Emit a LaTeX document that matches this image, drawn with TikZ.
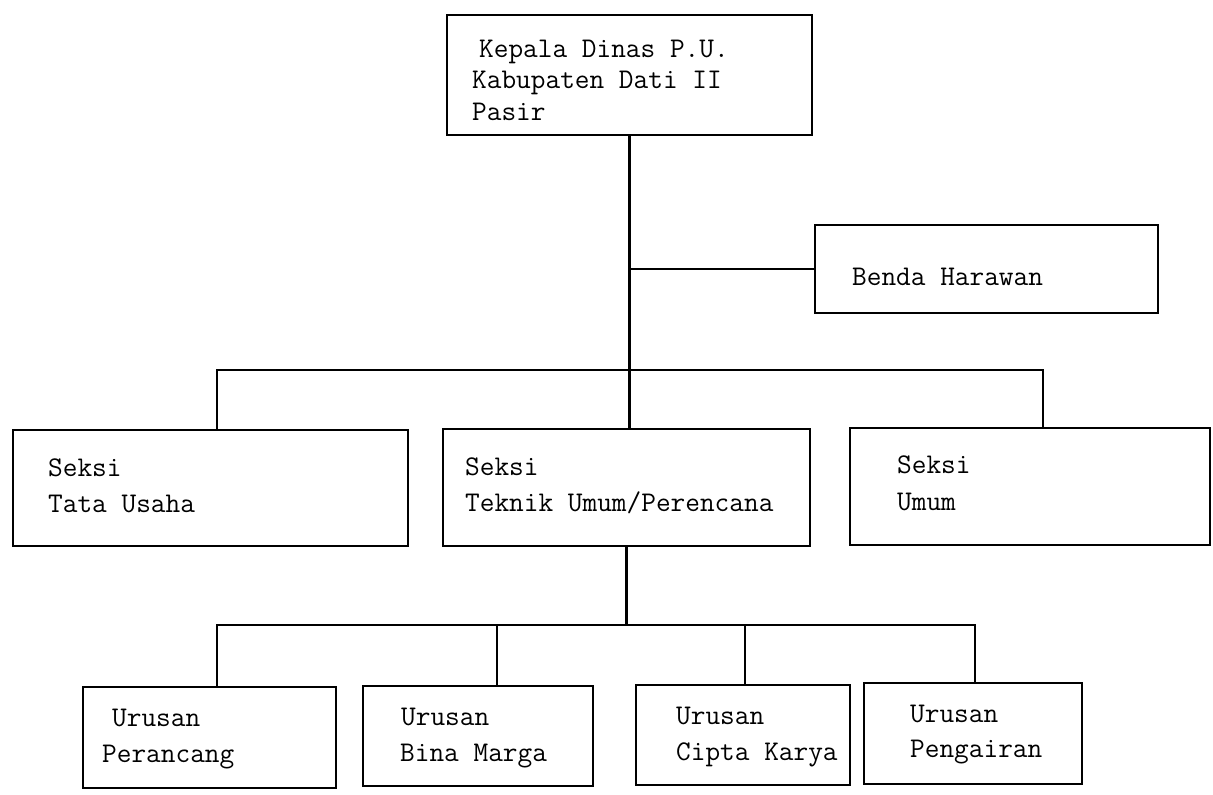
\documentclass[tikz,border=0pt]{standalone}
\begin{document}
\begin{tikzpicture}[x=1pt,y=-1pt,
  box/.style={draw, rectangle, line width=2.2pt, inner sep=0pt},
  wire/.style={line width=2.2pt},
  lbl/.style={anchor=base west, inner sep=0pt, font=\ttfamily\fontsize{28.5}{34}\selectfont}]
\useasboundingbox (0,0) rectangle (1213,795);
% boxes
\node[box, minimum width=365pt, minimum height=120pt] (kd) at (629.5,75) {};
\node[box, minimum width=343pt, minimum height=88pt] (bh) at (986.5,269) {};
\node[box, minimum width=395pt, minimum height=116pt] (tu) at (210.5,488) {};
\node[box, minimum width=367pt, minimum height=117pt] (tk) at (626.5,487.5) {};
\node[box, minimum width=360pt, minimum height=117pt] (um) at (1030,486.5) {};
\node[box, minimum width=253pt, minimum height=101pt] (up) at (209.5,737.5) {};
\node[box, minimum width=230pt, minimum height=100pt] (ub) at (478,736) {};
\node[box, minimum width=214pt, minimum height=100pt] (uc) at (743,735) {};
\node[box, minimum width=218pt, minimum height=101pt] (ug) at (973,733.5) {};
% labels
\node[lbl] (t1) at (479,57) {Kepala Dinas P.U.};
\node[lbl] (t2) at (472,88) {Kabupaten Dati II};
\node[lbl] (t3) at (472,120) {Pasir};
\node[lbl] (t4) at (852,285) {Benda Harawan};
\node[lbl] (t5) at (48,476) {Seksi};
\node[lbl] (t6) at (48,512) {Tata Usaha};
\node[lbl] (t7) at (465,475) {Seksi};
\node[lbl] (t8) at (465,511) {Teknik Umum/Perencana};
\node[lbl] (t9) at (897,473) {Seksi};
\node[lbl] (t10) at (897,510) {Umum};
\node[lbl] (t11) at (112,726) {Urusan};
\node[lbl] (t12) at (102,762) {Perancang};
\node[lbl] (t13) at (401,725) {Urusan};
\node[lbl] (t14) at (400,761) {Bina Marga};
\node[lbl] (t15) at (676,724) {Urusan};
\node[lbl] (t16) at (676,760) {Cipta Karya};
\node[lbl] (t17) at (910,722) {Urusan};
\node[lbl] (t18) at (910,757) {Pengairan};
% connectors
\coordinate (bL) at (217,370);
\coordinate (bR) at (1043,370);
\coordinate (cL) at (217,625);
\coordinate (c2) at (497,625);
\coordinate (c3) at (745,625);
\coordinate (cR) at (975,625);
\draw[wire] (kd.south) -- (kd.south |- tk.north);
\draw[wire] (kd.south |- bh.west) -- (bh.west);
\draw[wire] (bL |- tu.north) -- (bL) -- (bR) -- (bR |- um.north);
\draw[wire] (tk.south) -- (tk.south |- cL);
\draw[wire] (cL |- up.north) -- (cL) -- (cR) -- (cR |- ug.north);
\draw[wire] (c2) -- (c2 |- ub.north);
\draw[wire] (c3) -- (c3 |- uc.north);
\end{tikzpicture}
\end{document}
